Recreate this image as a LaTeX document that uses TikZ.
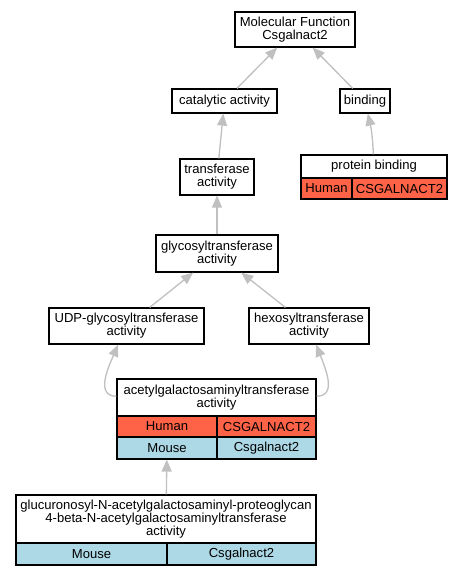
\documentclass[tikz,border=0pt]{standalone}
\usepackage{fontspec}
\setmainfont{Liberation Sans}
\usetikzlibrary{arrows.meta}
\definecolor{human}{HTML}{FF6347}
\definecolor{mouse}{HTML}{ADD8E6}
\definecolor{edgegray}{HTML}{C0C0C0}
\begin{document}
\begin{tikzpicture}[x=0.75pt, y=-0.75pt,
  term/.style={draw, fill=white, line width=0.9pt, inner sep=0pt, align=center,
    font=\fontsize{9.8}{9.8}\selectfont},
  dims/.style 2 args={minimum width=#1*0.75pt, minimum height=#2*0.75pt},
  human/.style={term, fill=human},
  mouse/.style={term, fill=mouse},
  isa/.style={draw=edgegray, line width=1pt, -{Triangle[length=9pt,width=7.5pt]}}]
  \useasboundingbox (0,0) rectangle (461,576);
  % terms
  \node[term, dims={120}{35}] (mf) at (295,29.5) {Molecular Function\\Csgalnact2};
  \node[term, dims={105}{24}] (catalytic) at (224.5,101) {catalytic activity};
  \node[term, dims={50}{24}] (binding) at (365,101) {binding};
  \node[term, dims={74}{36}] (transferase) at (217,177) {transferase\\activity};
  \node[term, dims={146}{23}] (pb) at (374,166.5) {protein binding};
  \node[human, dims={51}{21}] (pbHuman) at (326.5,188.5) {Human};
  \node[human, dims={95}{21}] (pbGene) at (399.5,188.5) {CSGALNACT2};
  \node[term, dims={122}{37}] (glyco) at (217,253.5) {glycosyltransferase\\activity};
  \node[term, dims={155}{36}] (udp) at (126.5,326) {UDP-glycosyltransferase\\activity};
  \node[term, dims={120}{36}] (hexo) at (309,326) {hexosyltransferase\\activity};
  \node[term, dims={199}{37}] (acetyl) at (216.5,397.5) {acetylgalactosaminyltransferase\\activity};
  \node[human, dims={100}{21}] (acHuman) at (167,426.5) {Human};
  \node[human, dims={99}{21}] (acGene) at (266.5,426.5) {CSGALNACT2};
  \node[mouse, dims={100}{22}] (acMouse) at (167,448) {Mouse};
  \node[mouse, dims={99}{22}] (acMouseGene) at (266.5,448) {Csgalnact2};
  \node[term, dims={300}{48}] (glucuronosyl) at (166,519)
    {glucuronosyl-N-acetylgalactosaminyl-proteoglycan\\4-beta-N-acetylgalactosaminyltransferase\\activity};
  \node[mouse, dims={151}{22}] (gluMouse) at (91.5,554) {Mouse};
  \node[mouse, dims={149}{22}] (gluGene) at (241.5,554) {Csgalnact2};
  % is_a edges
  \draw[isa] (catalytic) -- (mf);
  \draw[isa] (binding) -- (mf);
  \draw[isa] (transferase) -- (catalytic);
  \draw[isa] (pb) to[bend right=5] (binding);
  \draw[isa] (glyco) -- (transferase);
  \draw[isa] (udp) -- (glyco);
  \draw[isa] (hexo) -- (glyco);
  \draw[isa] (acetyl) .. controls (96,396) and (107,370) .. (udp);
  \draw[isa] (acetyl) .. controls (337,396) and (326,370) .. (hexo);
  \draw[isa] (glucuronosyl) -- (acMouse);
\end{tikzpicture}
\end{document}
